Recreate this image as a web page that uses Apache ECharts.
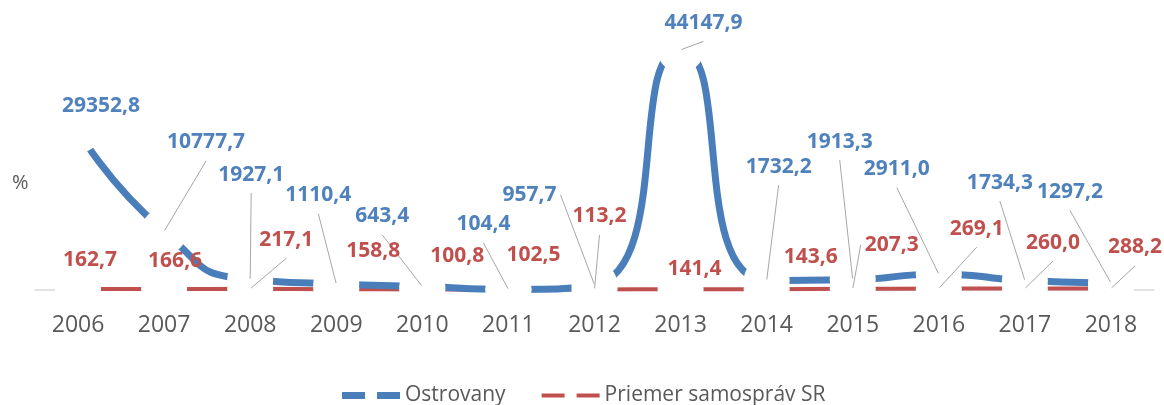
<!DOCTYPE html>
<html>
<head>
<meta charset="utf-8">
<title>Ostrovany</title>
<script src="https://cdn.jsdelivr.net/npm/echarts@6/dist/echarts.min.js"></script>
<style>
html, body { margin: 0; padding: 0; background: #fff; }
#charts { width: 1164px; height: 405px; }
</style>
</head>
<body>
<div id="charts"></div>
<script>
var years = ['2006', '2007', '2008', '2009', '2010', '2011', '2012', '2013', '2014', '2015', '2016', '2017', '2018'];
var ostrovany = [29352.8, 10777.7, 1927.1, 1110.4, 643.4, 104.4, 957.7, 44147.9, 1732.2, 1913.3, 2911.0, 1734.3, 1297.2];
var priemerSR = [162.7, 166.6, 217.1, 158.8, 100.8, 102.5, 113.2, 141.4, 143.6, 207.3, 269.1, 260.0, 288.2];

// posun popiskov od bodu v px, a ci maju vodiacu ciaru (2 = zalomena)
var blueOffsets = [[23, -24], [42, -89], [1, -105], [-18, -89], [-40, -70], [-25, -65], [-65, -90],
    [23, -27], [12, -114], [-13, -138], [-42, -105], [-25, -98], [-41, -91]];
var blueLeader = [0, 1, 1, 1, 1, 1, 2, 1, 1, 1, 1, 1, 1];
var redOffsets = [[12, -29], [11, -28], [36, -49], [37, -38], [35, -33], [25, -34], [5, -73],
    [14, -20], [44, -32], [39, -44], [38, -60], [28, -46], [24, -41]];
var redLeader = [0, 0, 1, 0, 0, 0, 1, 0, 0, 1, 1, 1, 1];

var BLUE = '#4a7ebb';
var RED = '#c0504d';
var GRAY = '#595959';

var myChart = echarts.init(document.getElementById('charts'));

function fmt(p) {
    return p.value.toFixed(1).replace('.', ',');
}

/*
 **data pre popisky (vodiaca ciara len kde treba)
 */
function labelData(values, leader) {
    return values.map(function (v, i) {
        return { value: v, labelLine: { show: !!leader[i] } };
    });
}

function layoutFor(offsets, leader) {
    return function (p) {
        var o = offsets[p.dataIndex];
        var px = p.rect.x + p.rect.width / 2;
        var py = p.rect.y + p.rect.height / 2;
        var res = { x: px + o[0], y: py + o[1], align: 'center', verticalAlign: 'middle' };
        if (leader[p.dataIndex] === 2) {
            // ciara ide vodorovne z pravej strany a potom dole k bodu
            var right = res.x + p.labelRect.width / 2 + 4;
            res.labelLinePoints = [[px, py], [right + 12, res.y - 2], [right, res.y - 2]];
        }
        return res;
    };
}

function lineSeries(name, values, color, width) {
    return {
        name: name,
        type: 'line',
        data: values,
        smooth: 0.6,
        clip: false,
        symbol: 'circle',
        symbolSize: 46,
        showSymbol: true,
        itemStyle: { color: '#fff', borderWidth: 0 },
        lineStyle: { color: color, width: width, cap: 'butt' },
        silent: true
    };
}

function labelSeries(name, values, color, offsets, leader) {
    return {
        name: name,
        type: 'scatter',
        data: labelData(values, leader),
        z: 10,
        symbolSize: 2,
        itemStyle: { color: 'rgba(0,0,0,0)', opacity: 1 },
        silent: true,
        label: {
            show: true,
            formatter: fmt,
            color: color,
            opacity: 1,
            fontFamily: 'Open Sans',
            fontWeight: 'bold',
            fontSize: 21,
            padding: [8, 4],
            backgroundColor: 'rgba(255,255,255,0)'
        },
        labelLine: { show: true, lineStyle: { color: '#a6a6a6', width: 1, opacity: 1 } },
        labelLayout: layoutFor(offsets, leader)
    };
}

var option = {
    animation: false,
    grid: { left: 35, right: 10, top: 18, bottom: 115 },
    graphic: [{
        type: 'text', left: 12, top: 173,
        style: { text: '%', font: '20px "Open Sans"', fill: GRAY }
    }],
    legend: {
        bottom: -6,
        left: 'center',
        itemWidth: 58,
        itemHeight: 8,
        itemGap: 34,
        textStyle: { color: GRAY, fontFamily: 'Open Sans', fontSize: 21 },
        data: [
            { name: 'Ostrovany', lineStyle: { type: [23, 12], width: 7, color: BLUE }, itemStyle: { opacity: 0 } },
            { name: 'Priemer samospráv SR', lineStyle: { type: [23, 12], width: 4, color: RED }, itemStyle: { opacity: 0 } }
        ]
    },
    xAxis: {
        type: 'category',
        data: years,
        boundaryGap: true,
        axisLine: { lineStyle: { color: '#d9d9d9', width: 1.5 } },
        axisTick: { show: false },
        axisLabel: { color: GRAY, fontFamily: 'Open Sans', fontSize: 23, margin: 24 }
    },
    yAxis: {
        type: 'value',
        min: 0,
        max: 50000,
        show: false,
        splitLine: { show: false }
    },
    series: [
        lineSeries('Priemer samospráv SR', priemerSR, RED, 4),
        lineSeries('Ostrovany', ostrovany, BLUE, 7),
        labelSeries('lblP', priemerSR, '#c0504d', redOffsets, redLeader),
        labelSeries('lblO', ostrovany, '#4f81bd', blueOffsets, blueLeader)
    ]
};

myChart.setOption(option);
</script>
</body>
</html>
